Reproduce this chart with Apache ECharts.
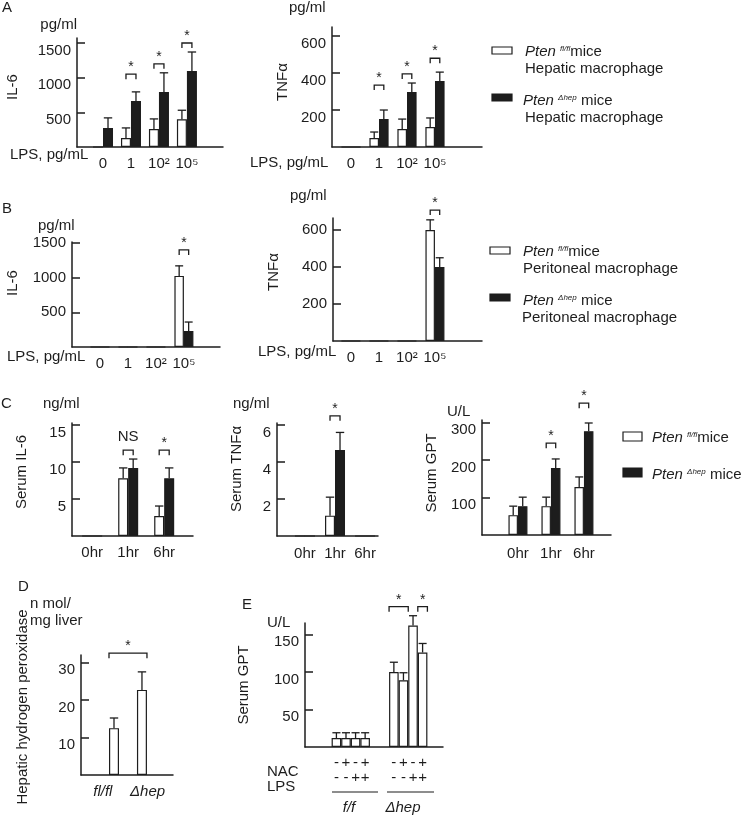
<!DOCTYPE html>
<html><head><meta charset="utf-8">
<script src="https://cdn.jsdelivr.net/npm/echarts@6/dist/echarts.min.js"></script>
<style>html,body{margin:0;padding:0;background:#fff}#c{width:745px;height:818px}</style>
</head><body><div id="c"></div><script>
// ================= DATA =================
const lpsLabels = ['0', '1', '10²', '10⁵'];
const hrLabels = ['0hr', '1hr', '6hr'];
const genoLabels = ['fl/fl', 'Δhep'];

// A – hepatic macrophage IL-6 (pg/ml)
const aIl6Fl = [0, 130, 260, 400];
const aIl6FlErr = [0, 145, 145, 130];
const aIl6Hep = [275, 665, 795, 1095];
const aIl6HepErr = [145, 130, 275, 275];
const aIl6Sig = [[1, 1050, '*'], [2, 1200, '*'], [3, 1500, '*']];
// A – hepatic macrophage TNFα (pg/ml)
const aTnfFl = [0, 49, 97, 108];
const aTnfFlErr = [0, 32, 54, 49];
const aTnfHep = [0, 151, 297, 357];
const aTnfHepErr = [0, 49, 49, 48];
const aTnfSig = [[1, 335, '*'], [2, 395, '*'], [3, 480, '*']];
// B – peritoneal macrophage IL-6
const bIl6Fl = [0, 0, 0, 1025];
const bIl6FlErr = [0, 0, 0, 145];
const bIl6Hep = [0, 0, 0, 230];
const bIl6HepErr = [0, 0, 0, 130];
const bIl6Sig = [[3, 1400, '*']];
// B – peritoneal macrophage TNFα
const bTnfFl = [0, 0, 0, 600];
const bTnfFlErr = [0, 0, 0, 55];
const bTnfHep = [0, 0, 0, 400];
const bTnfHepErr = [0, 0, 0, 50];
const bTnfSig = [[3, 708, '*']];
// C – serum IL-6 (ng/ml)
const cIl6Fl = [0, 7.8, 2.7];
const cIl6FlErr = [0, 1.4, 1.35];
const cIl6Hep = [0, 9.2, 7.8];
const cIl6HepErr = [0, 1.2, 1.4];
const cIl6Sig = [[1, 11.6, 'NS'], [2, 11.6, '*']];
// C – serum TNFα (ng/ml)
const cTnfFl = [0, 1.1, 0];
const cTnfFlErr = [0, 1.0, 0];
const cTnfHep = [0, 4.65, 0];
const cTnfHepErr = [0, 0.95, 0];
const cTnfSig = [[1, 6.5, '*']];
// C – serum GPT (U/L)
const cGptFl = [53, 77, 128];
const cGptFlErr = [24, 24, 27];
const cGptHep = [77, 179, 277];
const cGptHepErr = [24, 24, 22];
const cGptSig = [[1, 245, '*'], [2, 352, '*']];
// D – hepatic hydrogen peroxide (nmol/mg liver)
const dH2o2 = [12.5, 22.7];
const dH2o2Err = [2.7, 4.8];
const dSig = [[0, 1, 32.5, '*']];
// E – serum GPT with NAC / LPS
const eNac = ['-', '+', '-', '+', '-', '+', '-', '+'];
const eLps = ['-', '-', '+', '+', '-', '-', '+', '+'];
const eGpt = [12, 12, 12, 12, 100, 89, 162, 126];
const eGptErr = [7, 7, 7, 7, 13, 10, 13, 12];
const eSig = [[4, 5, 187, '*'], [7, 7, 187, '*']];
// y tick labels
const il6Ticks = [500, 1000, 1500];
const tnfTicks = [200, 400, 600];
const serumIl6Ticks = [5, 10, 15];
const serumTnfTicks = [2, 4, 6];
const gptTicks = [100, 200, 300];
const h2o2Ticks = [10, 20, 30];
const eTicks = [50, 100, 150];

// ================= LAYOUT / STYLE =================
const INK = '#1d1d1d';
const FONT = '"Liberation Sans", Arial, Helvetica, sans-serif';
const grids = [], xAxes = [], yAxes = [], series = [];

function addPanel(i, L, xLabels, xPos, yTicks, opts) {
  opts = opts || {};
  const shift = L.labelShift || xPos.map(() => 0);
  const labPos = xPos.map((p, k) => p + shift[k]);
  grids.push({ left: L.grid[0], top: L.grid[1], width: L.grid[2], height: L.grid[3] });
  xAxes.push({
    gridIndex: i, type: 'value', min: L.x[0], max: L.x[1],
    axisLine: { show: true, onZero: false, lineStyle: { color: INK, width: 1.5 } },
    axisTick: { show: false }, splitLine: { show: false },
    axisLabel: {
      customValues: labPos, hideOverlap: false,
      formatter: v => {
        let k = 0, d = Infinity;
        labPos.forEach((p, j) => { if (Math.abs(p - v) < d) { d = Math.abs(p - v); k = j; } });
        return xLabels[k];
      },
      margin: L.xMargin || 9, color: INK, fontSize: 15, fontFamily: FONT,
      fontStyle: opts.italic ? 'italic' : 'normal', lineHeight: 15
    }
  });
  yAxes.push({
    gridIndex: i, type: 'value', min: 0, max: L.yMax,
    axisLine: { show: true, onZero: false, lineStyle: { color: INK, width: 1.5 } },
    axisTick: { show: true, inside: true, length: 8, customValues: yTicks, lineStyle: { color: INK, width: 1.5 } },
    splitLine: { show: false },
    axisLabel: { customValues: yTicks, formatter: v => String(v), verticalAlign: L.vAlign || 'top', margin: 6, color: INK, fontSize: 15, fontFamily: FONT }
  });
}

function bars(i, vals, fill, bw, pos) {
  return {
    type: 'bar', xAxisIndex: i, yAxisIndex: i, data: vals.map((v, k) => [pos[k], v]),
    barWidth: bw, barGap: '0%', silent: true, clip: false,
    itemStyle: { color: fill, borderColor: INK, borderWidth: 1.2 }
  };
}

function errs(i, vals, e, side, bw, pos) {
  return {
    type: 'custom', xAxisIndex: i, yAxisIndex: i, clip: false, silent: true, z: 3,
    data: vals.map((v, k) => [pos[k], v, e[k]]),
    renderItem(params, api) {
      const er = api.value(2);
      if (!er) return null;
      const x = api.value(0), v = api.value(1);
      const p0 = api.coord([x, v]), p1 = api.coord([x, v + er]);
      const cx = p0[0] + side * bw / 2, hw = bw * 0.42;
      const st = { stroke: INK, lineWidth: 1.3 };
      return { type: 'group', children: [
        { type: 'line', shape: { x1: cx, y1: p0[1], x2: cx, y2: p1[1] }, style: st },
        { type: 'line', shape: { x1: cx - hw, y1: p1[1], x2: cx + hw, y2: p1[1] }, style: st }
      ] };
    }
  };
}

// list items: {a, b, level, label}; bracket from (a - bw/2) to (b + bw/2)
function sigs(i, list, bw) {
  return {
    type: 'custom', xAxisIndex: i, yAxisIndex: i, clip: false, silent: true, z: 3,
    data: list.map(s => [s.a, s.level]),
    renderItem(params, api) {
      const s = list[params.dataIndex];
      const pa = api.coord([s.a, s.level]), pb = api.coord([s.b, s.level]);
      const xa = pa[0] - bw / 2, xb = pb[0] + bw / 2, y = pa[1];
      const st = { stroke: INK, lineWidth: 1.3, fill: null };
      const off = s.label === '*' ? 7 : 13;
      return { type: 'group', children: [
        { type: 'polyline', shape: { points: [[xa, y + 5], [xa, y], [xb, y], [xb, y + 5]] }, style: st },
        { type: 'text', style: { text: s.label, x: (xa + xb) / 2, y: y - off, align: 'center', verticalAlign: 'middle',
            fontSize: s.label === '*' ? 14 : 15, fontFamily: FONT, fill: INK } }
      ] };
    }
  };
}

function groupedPanel(i, L, xLabels, yTicks, fl, flE, hep, hepE, sig) {
  const pos = xLabels.map((_, k) => k);
  addPanel(i, L, xLabels, pos, yTicks);
  series.push(bars(i, fl, '#ffffff', L.bw, pos));
  series.push(bars(i, hep, INK, L.bw, pos));
  series.push(errs(i, fl, flE, -1, L.bw, pos));
  series.push(errs(i, hep, hepE, 1, L.bw, pos));
  series.push(sigs(i, sig.map(s => ({ a: s[0], b: s[0], level: s[1], label: s[2] })), L.bw));
}

groupedPanel(0, { grid: [77, 38, 146, 109], x: [-0.93, 4.29], yMax: 1572, bw: 10 }, lpsLabels, il6Ticks, aIl6Fl, aIl6FlErr, aIl6Hep, aIl6HepErr, aIl6Sig);
groupedPanel(1, { grid: [332, 27, 150, 120], x: [-0.68, 4.68], yMax: 649, bw: 9.6 }, lpsLabels, tnfTicks, aTnfFl, aTnfFlErr, aTnfHep, aTnfHepErr, aTnfSig);
groupedPanel(2, { grid: [72, 242, 148, 105], x: [-1.0, 4.29], yMax: 1514, bw: 9.5, vAlign: 'middle' }, lpsLabels, il6Ticks, bIl6Fl, bIl6FlErr, bIl6Hep, bIl6HepErr, bIl6Sig);
groupedPanel(3, { grid: [333, 218, 149, 123], x: [-0.64, 4.68], yMax: 665, bw: 9.5, vAlign: 'middle' }, lpsLabels, tnfTicks, bTnfFl, bTnfFlErr, bTnfHep, bTnfHepErr, bTnfSig);
groupedPanel(4, { grid: [72, 423, 121, 113], x: [-0.56, 2.8], yMax: 15.27, bw: 10 }, hrLabels, serumIl6Ticks, cIl6Fl, cIl6FlErr, cIl6Hep, cIl6HepErr, cIl6Sig);
groupedPanel(5, { grid: [277, 423, 101, 113], x: [-0.93, 2.43], yMax: 6.11, bw: 10, xMargin: 10 }, hrLabels, serumTnfTicks, cTnfFl, cTnfFlErr, cTnfHep, cTnfHepErr, cTnfSig);
groupedPanel(6, { grid: [482, 420, 129, 115], x: [-1.09, 2.82], yMax: 307, bw: 9.5, xMargin: 11 }, hrLabels, gptTicks, cGptFl, cGptFlErr, cGptHep, cGptHepErr, cGptSig);

// D
(function () {
  const L = { grid: [81, 655, 92, 120], x: [-1.18, 2.11], yMax: 32, bw: 10, xMargin: 9, labelShift: [-0.4, 0.2] };
  const pos = genoLabels.map((_, k) => k);
  addPanel(7, L, genoLabels, pos, h2o2Ticks, { italic: true });
  series.push(bars(7, dH2o2, '#ffffff', L.bw, pos));
  series.push(errs(7, dH2o2, dH2o2Err, 0, L.bw, pos));
  series.push(sigs(7, dSig.map(s => ({ a: pos[s[0]], b: pos[s[1]], level: s[2], label: s[3] })), L.bw));
})();

// E
(function () {
  const L = { grid: [305, 623, 138, 124], x: [-3.28, 11.13], yMax: 165.3, bw: 9.6, xMargin: 8 };
  const pos = eGpt.map((_, k) => k + (k >= 4 ? 2 : 0));
  const lab = eNac.map((n, k) => n + '\n' + eLps[k]);
  addPanel(8, L, lab, pos, eTicks);
  series.push(bars(8, eGpt, '#ffffff', L.bw, pos));
  series.push(errs(8, eGpt, eGptErr, 0, L.bw, pos));
  series.push(sigs(8, eSig.map(s => ({ a: pos[s[0]], b: pos[s[1]], level: s[2], label: s[3] })), L.bw));
})();

// ================= TEXT / LEGENDS =================
function txt(text, x, y, extra) {
  return Object.assign({ type: 'text', x: x, y: y, silent: true,
    style: Object.assign({ text: text, fontSize: 15, fontFamily: FONT, fill: INK, align: 'left', verticalAlign: 'middle' }, (extra && extra.style) || {}) },
    extra && extra.rotation ? { rotation: extra.rotation } : {});
}
function vtxt(text, x, y) { return txt(text, x, y, { rotation: Math.PI / 2, style: { align: 'center' } }); }
const richPten = {
  it: { fontStyle: 'italic', fontSize: 15, fontFamily: FONT, fill: INK, lineHeight: 18 },
  sup: { fontStyle: 'italic', fontSize: 8, fontFamily: FONT, fill: INK, lineHeight: 18, verticalAlign: 'top', padding: [2, 0, 0, 0] },
  n: { fontSize: 15, fontFamily: FONT, fill: INK, lineHeight: 18 }
};
function ptenText(kind, x, y) {
  const t = kind === 'fl' ? '{it|Pten }{sup|fl/fl}{n|mice}' : '{it|Pten }{sup|Δhep}{n| mice}';
  return { type: 'text', x: x, y: y, silent: true, style: { text: t, rich: richPten, align: 'left', verticalAlign: 'middle' } };
}
function box(x, y, w, h, fill) {
  return { type: 'rect', x: x, y: y, silent: true, shape: { x: 0, y: 0, width: w, height: h }, style: { fill: fill, stroke: INK, lineWidth: 1.2 } };
}

const graphics = [
  // A
  txt('A', 2, 8), txt('pg/ml', 77, 25, { style: { align: 'right' } }), vtxt('IL-6', 13, 87),
  txt('LPS, pg/mL', 10, 155), txt('pg/ml', 289, 8), vtxt('TNFα', 283, 82), txt('LPS, pg/mL', 250, 163),
  box(492, 47, 20, 7, '#fff'), ptenText('fl', 525, 52), txt('Hepatic macrophage', 525, 69),
  box(492, 94, 20, 7, INK), ptenText('hep', 523, 101), txt('Hepatic macrophage', 525, 118),
  // B
  txt('B', 2, 209), txt('pg/ml', 38, 226), vtxt('IL-6', 13, 283), txt('LPS, pg/mL', 7, 357),
  txt('pg/ml', 290, 196), vtxt('TNFα', 274, 272), txt('LPS, pg/mL', 258, 352),
  box(490, 247, 20, 7, '#fff'), ptenText('fl', 523, 252), txt('Peritoneal macrophage', 523, 269),
  box(490, 294, 20, 7, INK), ptenText('hep', 523, 301), txt('Peritoneal macrophage', 522, 318),
  // C
  txt('C', 1, 404), txt('ng/ml', 43, 404), vtxt('Serum IL-6', 22, 472),
  txt('ng/ml', 233, 404), vtxt('Serum TNFα', 237, 469),
  txt('U/L', 447, 412), vtxt('Serum GPT', 432, 473),
  box(623, 432, 19, 9, '#fff'), ptenText('fl', 652, 438),
  box(623, 468, 19, 9, INK), ptenText('hep', 652, 475),
  // D
  txt('D', 18, 587), txt('n mol/', 30, 604), txt('mg liver', 30, 621), vtxt('Hepatic hydrogen peroxidase', 23, 707),
  // E
  txt('E', 242, 605), txt('U/L', 267, 623), vtxt('Serum GPT', 244, 685),
  txt('NAC', 267, 772), txt('LPS', 267, 787),
  { type: 'line', silent: true, shape: { x1: 332, y1: 792, x2: 378, y2: 792 }, style: { stroke: INK, lineWidth: 1.2 } },
  { type: 'line', silent: true, shape: { x1: 387, y1: 792, x2: 434, y2: 792 }, style: { stroke: INK, lineWidth: 1.2 } },
  txt('f/f', 349, 808, { style: { align: 'center', fontStyle: 'italic' } }),
  txt('Δhep', 403, 808, { style: { align: 'center', fontStyle: 'italic' } })
];

const chart = echarts.init(document.getElementById('c'), null, { renderer: 'canvas' });
chart.setOption({
  animation: false,
  backgroundColor: '#ffffff',
  textStyle: { fontFamily: FONT },
  grid: grids, xAxis: xAxes, yAxis: yAxes, series: series,
  graphic: { elements: graphics }
});
</script></body></html>
